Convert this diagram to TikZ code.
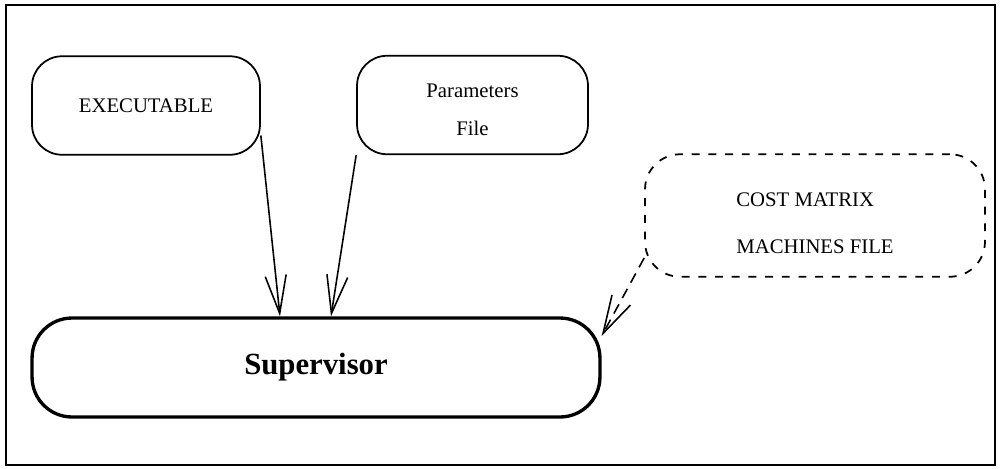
\documentclass[tikz,border=0pt]{standalone}
\usepackage{fontspec}
\setmainfont{Liberation Serif}
\usepackage{tikz}
\usetikzlibrary{arrows.meta}

\begin{document}
\begin{tikzpicture}[x=0.02cm, y=-0.02cm,
  box/.style={draw, line width=1pt, rounded corners=0.6cm, minimum height=1.97cm, font=\fontsize{11.8}{21.6}\selectfont},
  dashbox/.style={box, dash pattern=on 4.5pt off 5pt, minimum width=6.8cm, minimum height=2.45cm, rounded corners=0.7cm, font=\fontsize{11.8}{27}\selectfont},
  supbox/.style={draw, line width=1.9pt, rounded corners=0.8cm, minimum width=11.36cm, minimum height=1.98cm, font=\fontsize{17.5}{20}\bfseries\selectfont},
  conn/.style={-{Straight Barb[length=7.6mm, width=4.2mm]}, line width=0.9pt}]
\useasboundingbox (0,0) rectangle (1000,468);
% frame
\draw[line width=1.2pt] (6,5) rectangle (995,465);
% input files
\node[box, minimum width=4.56cm] (exe) at (146,105.5) {EXECUTABLE};
\node[box, minimum width=4.62cm, align=center, text height=1.22cm] (params) at (472.5,105) {Parameters\\File};
\node[dashbox, align=left, text height=1.54cm] (cost) at (815,215.5) {COST MATRIX\\MACHINES FILE};
% supervisor
\node[supbox] (sup) at (316,367.5) {Supervisor};
% connectors
\draw[conn] ([yshift=-0.6cm]exe.east) -- ([xshift=-0.72cm]sup.north);
\draw[conn] (params.south west) -- ([xshift=0.3cm]sup.north);
\draw[conn, dash pattern=on 6pt off 4pt] ([yshift=-0.85cm]cost.west) -- ([yshift=0.63cm]sup.east);
\end{tikzpicture}
\end{document}
